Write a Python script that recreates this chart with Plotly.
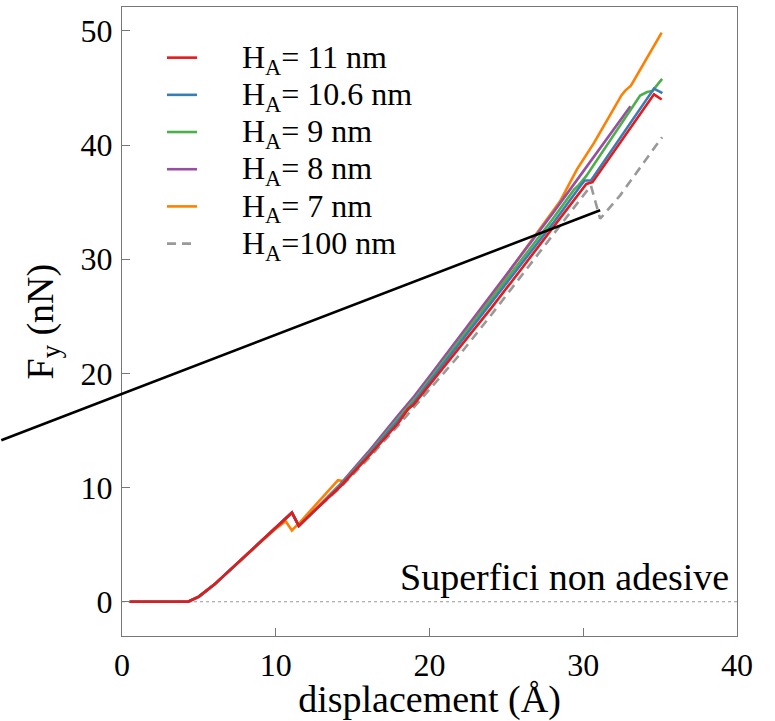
import plotly.graph_objects as go

# ---------------- data ----------------
x_red = [0.5, 4.3, 5.0, 6.0, 7.0, 8.0, 9.0, 10.0, 11.05, 11.5, 12.45, 14.2, 16.0, 18.0, 18.6, 18.96,
         20.0, 22.0, 24.0, 26.0, 28.0, 29.9, 30.2, 30.6, 32.0, 33.5, 34.6, 35.1]
y_red = [0, 0, 0.45, 1.5, 2.75, 4.0, 5.2, 6.45, 7.8, 6.65, 7.9, 10.1, 12.7, 15.7, 16.9, 17.25,
         19.0, 22.35, 25.7, 29.2, 32.7, 36.0, 36.6, 36.75, 39.45, 42.35, 44.45, 44.0]

x_blue = [0.5, 4.3, 5.0, 6.0, 7.0, 8.0, 9.0, 10.0, 11.05, 11.5, 12.45, 14.2, 16.0, 18.0, 19.0,
          20.0, 22.0, 24.0, 26.0, 28.0, 29.8, 30.1, 30.5, 32.0, 33.5, 34.6, 35.15]
y_blue = [0, 0, 0.45, 1.5, 2.75, 4.0, 5.2, 6.45, 7.8, 6.65, 7.9, 10.15, 12.8, 15.9, 17.5,
          19.25, 22.7, 26.1, 29.6, 33.1, 36.4, 36.9, 36.9, 39.85, 42.85, 44.95, 44.55]

x_green = [0.5, 4.3, 5.0, 6.0, 7.0, 8.0, 9.0, 10.0, 11.05, 11.5, 12.45, 14.2, 16.0, 18.0, 19.0,
           20.0, 22.0, 24.0, 26.0, 28.0, 29.4, 29.7, 30.2, 31.5, 32.8, 33.7, 34.15, 34.5, 35.13]
y_green = [0, 0, 0.45, 1.5, 2.75, 4.0, 5.2, 6.45, 7.8, 6.65, 7.9, 10.2, 12.9, 16.1, 17.7,
           19.45, 22.95, 26.4, 29.95, 33.5, 36.1, 36.5, 37.3, 39.9, 42.6, 44.35, 44.65, 44.75, 45.8]

x_purple = [0.5, 4.3, 5.0, 6.0, 7.0, 8.0, 9.0, 10.0, 11.05, 11.5, 12.45, 14.2, 16.0, 18.0, 19.0,
            20.0, 22.0, 24.0, 26.0, 28.0, 30.0, 31.0, 32.0, 33.07]
y_purple = [0, 0, 0.45, 1.5, 2.75, 4.0, 5.2, 6.45, 7.8, 6.65, 7.9, 10.3, 13.1, 16.4, 18.0,
            19.75, 23.3, 26.8, 30.4, 34.0, 37.7, 39.55, 41.45, 43.4]

x_orange = [0.5, 4.3, 5.0, 6.0, 7.0, 8.0, 9.0, 10.0, 10.65, 11.05, 11.6, 14.05, 14.45, 16.0, 18.0,
            19.0, 20.0, 22.0, 24.0, 25.8, 27.1, 28.5, 29.05, 29.6, 30.7, 32.5, 32.75, 33.1, 35.1]
y_orange = [0, 0, 0.45, 1.5, 2.75, 4.0, 5.2, 6.4, 7.05, 6.25, 7.0, 10.65, 10.55, 12.7, 15.8,
            17.5, 19.4, 23.0, 26.6, 30.1, 32.5, 35.1, 36.5, 37.9, 40.2, 44.4, 44.8, 45.2, 49.85]

x_gray = [0.5, 4.3, 5.0, 6.0, 7.0, 8.0, 9.0, 10.0, 11.05, 11.5, 12.45, 14.2, 16.0, 18.0, 19.6,
          22.0, 24.0, 26.0, 28.0, 30.0, 30.5, 31.1, 32.4, 35.13]
y_gray = [0, 0, 0.45, 1.5, 2.75, 4.0, 5.2, 6.45, 7.8, 6.65, 7.9, 10.0, 12.5, 15.5, 17.95,
          21.7, 25.1, 28.6, 32.1, 35.6, 36.45, 33.55, 35.6, 40.7]

names = ["H<sub>A</sub>= 11 nm", "H<sub>A</sub>= 10.6 nm", "H<sub>A</sub>= 9 nm",
         "H<sub>A</sub>= 8 nm", "H<sub>A</sub>= 7 nm", "H<sub>A</sub>=100 nm"]
colors = ["#e41a1c", "#377eb8", "#4daf4a", "#984ea3", "#ff7f00", "#999999"]

# pointer line (tail outside the axes, tip near the 100 nm drop)
pointer_tail = (-7.95, 14.1)
pointer_tip = (31.1, 34.3)

x_ticks = [0, 10, 20, 30, 40]
y_ticks = [0, 10, 20, 30, 40, 50]

FONT = "Liberation Serif, Times New Roman, serif"
GAP = "\u00a0\u00a0\u00a0\u00a0\u00a0"

series = [
    (x_gray, y_gray, 5, "dash"),
    (x_orange, y_orange, 4, "solid"),
    (x_purple, y_purple, 3, "solid"),
    (x_green, y_green, 2, "solid"),
    (x_blue, y_blue, 1, "solid"),
    (x_red, y_red, 0, "solid"),
]

fig = go.Figure()
for xs, ys, i, dash in series:
    fig.add_trace(go.Scatter(
        x=xs, y=ys, mode="lines",
        name='<span style="font-size:32px">' + GAP + names[i] + "</span>",
        legendrank=i + 1,
        line=dict(color=colors[i], width=2.6, dash="9px,6px" if dash == "dash" else "solid"),
    ))

axis_common = dict(
    showgrid=False, zeroline=False, showline=True, linecolor="#777777", linewidth=1.3,
    mirror=True, ticks="inside", ticklen=8, tickwidth=1.3, tickcolor="#777777",
    tickfont=dict(family=FONT, size=32, color="black"), automargin=False,
)

fig.update_layout(
    width=775, height=721,
    margin=dict(l=122, r=38, t=7, b=85),
    paper_bgcolor="white", plot_bgcolor="white",
    font=dict(family=FONT, color="black"),
    showlegend=True,
    legend=dict(x=0.065, y=0.957, xanchor="left", yanchor="top",
                bgcolor="rgba(0,0,0,0)", borderwidth=0,
                font=dict(family=FONT, size=26.3, color="black"),
                traceorder="normal", itemwidth=30, tracegroupgap=0),
    xaxis=dict(range=[0, 40], tickvals=x_ticks, ticklabelstandoff=0,
               title=dict(text="displacement (Å)", font=dict(family=FONT, size=38)),
               **axis_common),
    yaxis=dict(range=[-3, 52.1], tickvals=y_ticks, ticklabelstandoff=2,
               **axis_common),
    shapes=[dict(type="line", xref="paper", yref="y", x0=0, x1=1, y0=0, y1=0,
                 line=dict(color="#999999", width=1, dash="3px,3px"), layer="below")],
    annotations=[
        dict(text="F<sub>y</sub> (nN)", x=0, y=0.5, xref="paper", yref="paper",
             xanchor="right", yanchor="middle", textangle=-90, xshift=-54,
             showarrow=False, font=dict(family=FONT, size=38, color="black")),
        dict(text="Superfici non adesive", x=39.6, y=0, xref="x", yref="y",
             xanchor="right", yanchor="bottom", showarrow=False, yshift=2,
             font=dict(family=FONT, size=38, color="black")),
        dict(text="", x=pointer_tip[0], y=pointer_tip[1], xref="x", yref="y",
             ax=pointer_tail[0], ay=pointer_tail[1], axref="x", ayref="y",
             showarrow=True, arrowhead=0, arrowwidth=2.6, arrowcolor="black",
             standoff=0, startstandoff=0),
    ],
)

fig.write_html("out.html")
